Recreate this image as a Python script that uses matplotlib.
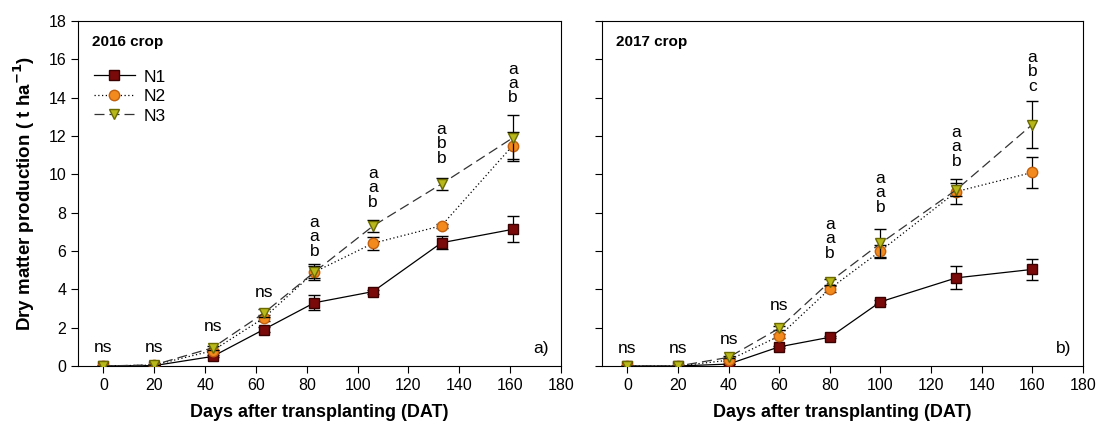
import matplotlib
matplotlib.use("Agg")
import matplotlib.pyplot as plt
from matplotlib.lines import Line2D

plt.rcParams['font.family'] = ['Liberation Sans', 'DejaVu Sans']

# ---- 2016 crop ----
days16 = [0, 20, 43, 63, 83, 106, 133, 161]
n1_16 = [0.0, 0.02, 0.5, 1.9, 3.3, 3.88, 6.43, 7.13]
n1_16_err = [0.0, 0.0, 0.05, 0.15, 0.4, 0.1, 0.33, 0.68]
n2_16 = [0.0, 0.05, 0.8, 2.5, 4.9, 6.4, 7.32, 11.5]
n2_16_err = [0.0, 0.0, 0.05, 0.15, 0.3, 0.33, 0.1, 0.7]
n3_16 = [0.0, 0.06, 0.95, 2.75, 4.9, 7.3, 9.5, 11.9]
n3_16_err = [0.0, 0.0, 0.1, 0.2, 0.4, 0.3, 0.3, 1.2]
labels16 = ['ns', 'ns', 'ns', 'ns', 'a\na\nb', 'a\na\nb', 'a\nb\nb', 'a\na\nb']
label_y16 = [0.55, 0.55, 1.65, 3.45, 5.6, 8.15, 10.45, 13.6]

# ---- 2017 crop ----
days17 = [0, 20, 40, 60, 80, 100, 130, 160]
n1_17 = [0.0, 0.0, 0.1, 1.0, 1.5, 3.35, 4.6, 5.04]
n1_17_err = [0.0, 0.0, 0.02, 0.05, 0.05, 0.1, 0.6, 0.54]
n2_17 = [0.0, 0.0, 0.3, 1.56, 4.03, 6.0, 9.1, 10.1]
n2_17_err = [0.0, 0.0, 0.05, 0.1, 0.15, 0.3, 0.65, 0.8]
n3_17 = [0.0, 0.0, 0.45, 1.97, 4.4, 6.4, 9.2, 12.6]
n3_17_err = [0.0, 0.0, 0.05, 0.1, 0.15, 0.75, 0.35, 1.24]
labels17 = ['ns', 'ns', 'ns', 'ns', 'a\na\nb', 'a\na\nb', 'a\na\nb', 'a\nb\nc']
label_y17 = [0.5, 0.5, 1.0, 2.75, 5.5, 7.9, 10.3, 14.2]

series_names = ['N1', 'N2', 'N3']
xticks = [0, 20, 40, 60, 80, 100, 120, 140, 160, 180]
yticks = [0, 2, 4, 6, 8, 10, 12, 14, 16, 18]

c_sq = '#7a0a0a'
c_ci = '#f28a1e'
c_tr = '#b8b81a'
MS = 7.5

styles = [
    dict(color='black', lw=0.9, ls='-', marker='s', mfc=c_sq, mec='#3a0000', ms=MS),
    dict(color='black', lw=0.9, ls=(0, (1, 2)), marker='o', mfc=c_ci, mec='#c06010', ms=MS),
    dict(color='#333333', lw=0.9, ls=(0, (8, 4)), marker='v', mfc=c_tr, mec='#6a6a00', ms=MS),
]

fig = plt.figure(figsize=(10.99, 4.32), dpi=100)
ax1 = fig.add_axes([78/1099, 66/432, 483/1099, 345/432])
ax2 = fig.add_axes([602/1099, 66/432, 481/1099, 345/432])


def draw(ax, days, ys, errs, labs, ly, title, tag, show_legend):
    for i, (y, e, st) in enumerate(zip(ys, errs, styles)):
        ax.errorbar(days, y, yerr=e, capsize=4, elinewidth=0.9, ecolor='black',
                    label=series_names[i], zorder=3 + i, **st)
    for d, t, y in zip(days, labs, ly):
        ax.text(d, y, t, ha='center', va='bottom', fontsize=12.5, linespacing=0.95)
    ax.set_xlim(-10, 180)
    ax.set_ylim(0, 18)
    ax.set_xticks(xticks)
    ax.set_yticks(yticks)
    ax.tick_params(direction='out', length=5, labelsize=11.5, top=False, right=False)
    ax.text(0.03, 0.96, title, transform=ax.transAxes, fontsize=11, fontweight='bold',
            va='top', ha='left')
    ax.text(0.975, 0.03, tag, transform=ax.transAxes, fontsize=12.5, va='bottom', ha='right')
    ax.set_xlabel('Days after transplanting (DAT)', fontsize=13, fontweight='bold', labelpad=8)
    if show_legend:
        handles = [Line2D([], [], **st) for st in styles]
        ax.legend(handles, series_names, loc='upper left', bbox_to_anchor=(0.0, 0.905),
                  frameon=False, fontsize=12.5, handlelength=2.4, handletextpad=0.5,
                  labelspacing=0.25)


draw(ax1, days16, [n1_16, n2_16, n3_16], [n1_16_err, n2_16_err, n3_16_err],
     labels16, label_y16, '2016 crop', 'a)', True)
draw(ax2, days17, [n1_17, n2_17, n3_17], [n1_17_err, n2_17_err, n3_17_err],
     labels17, label_y17, '2017 crop', 'b)', False)
ax2.set_yticklabels([])
ax1.set_ylabel('Dry matter production ( t ha$^{\\mathbf{-1}}$)', fontsize=13.5,
               fontweight='bold', labelpad=8)

fig.savefig('out.png', dpi=100)
